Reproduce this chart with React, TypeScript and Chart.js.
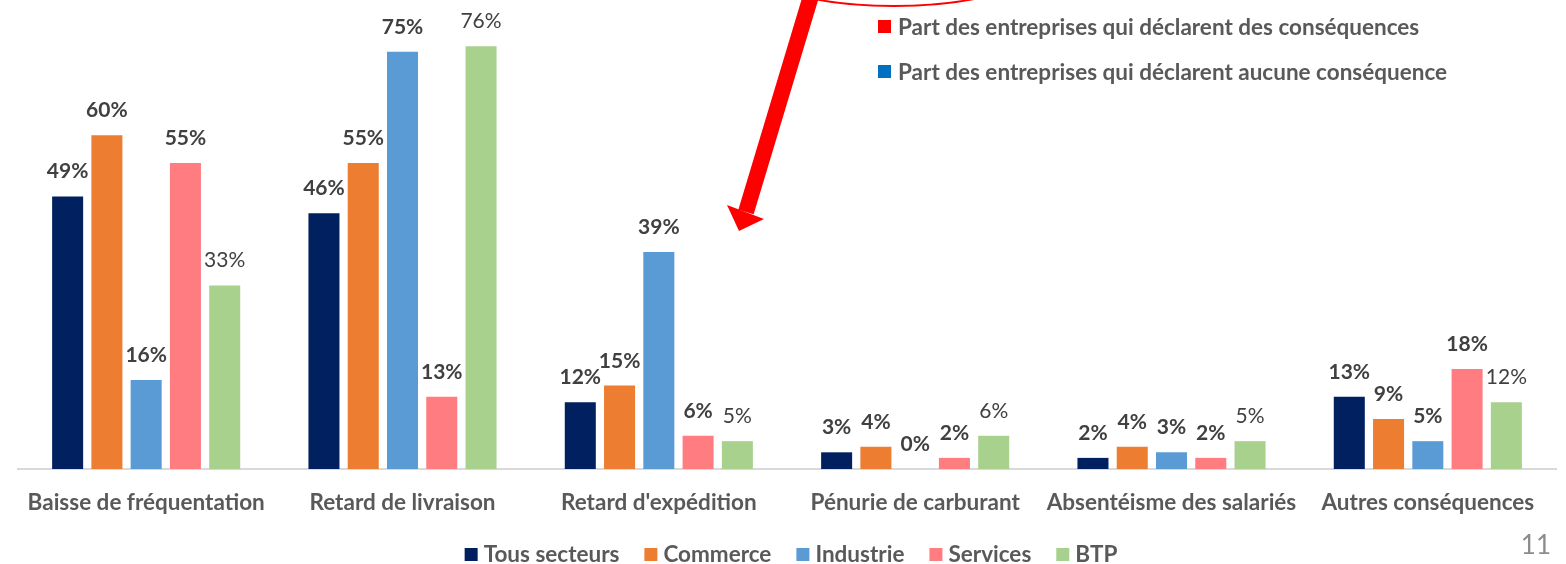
import React, { useEffect, useRef } from "react";
import { Chart, registerables } from "chart.js";

Chart.register(...registerables);

const categories = [
  "Baisse de fréquentation",
  "Retard de livraison",
  "Retard d'expédition",
  "Pénurie de carburant",
  "Absentéisme des salariés",
  "Autres conséquences",
];
const seriesNames = ["Tous secteurs", "Commerce", "Industrie", "Services", "BTP"];
const tousSecteurs = [49, 46, 12, 3, 2, 13];
const commerce = [60, 55, 15, 4, 4, 9];
const industrie = [16, 75, 39, 0, 3, 5];
const services = [55, 13, 6, 2, 2, 18];
const btp = [33, 76, 5, 6, 5, 12];
const seriesColors = ["#002060", "#ED7D31", "#5B9BD5", "#FF7C80", "#A9D18E"];
const boldLabels = [true, true, true, true, false];
const noteLabels = [
  "Part des entreprises qui déclarent des conséquences",
  "Part des entreprises qui déclarent aucune conséquence",
];
const noteColors = ["#FF0000", "#0070C0"];
const pageNumber = "11";

const FONT = "Lato, 'Open Sans', sans-serif";

const overlayPlugin = {
  id: "overlay",
  afterDatasetsDraw(chart: any) {
    const ctx = chart.ctx;
    ctx.save();
    ctx.textAlign = "center";
    ctx.textBaseline = "alphabetic";
    ctx.fillStyle = "#404040";
    chart.data.datasets.forEach((ds: any, i: number) => {
      const meta = chart.getDatasetMeta(i);
      ctx.font = `${boldLabels[i] ? "bold " : ""}21px ${FONT}`;
      meta.data.forEach((el: any, j: number) => {
        ctx.fillText(`${ds.data[j]}%`, el.x, el.y - 18);
      });
    });
    ctx.restore();
  },
  afterDraw(chart: any) {
    const ctx = chart.ctx;
    ctx.save();

    // bottom legend
    ctx.font = `bold 22.5px ${FONT}`;
    ctx.textBaseline = "middle";
    ctx.textAlign = "left";
    const box = 13;
    const gapBox = 6;
    const gapItem = 25;
    const widths = seriesNames.map((n) => ctx.measureText(n).width);
    const total =
      widths.reduce((a, w) => a + box + gapBox + w, 0) + gapItem * (seriesNames.length - 1);
    let x = 791 - total / 2;
    const ly = 554;
    seriesNames.forEach((n, i) => {
      ctx.fillStyle = seriesColors[i];
      ctx.fillRect(x, ly - 6, box, box);
      ctx.fillStyle = "#595959";
      ctx.fillText(n, x + box + gapBox, ly + 1);
      x += box + gapBox + widths[i] + gapItem;
    });

    // top-right notes
    noteLabels.forEach((t, i) => {
      const y = 27 + i * 45;
      ctx.fillStyle = noteColors[i];
      ctx.fillRect(878, y - 7, 13, 13);
      ctx.fillStyle = "#595959";
      ctx.fillText(t, 898, y + 1);
    });

    // page number
    ctx.font = `26px ${FONT}`;
    ctx.fillStyle = "#8C8C8C";
    ctx.textAlign = "right";
    ctx.fillText(pageNumber, 1551, 546);

    // red oval (partial)
    ctx.strokeStyle = "#FF0000";
    ctx.lineWidth = 2;
    ctx.beginPath();
    ctx.ellipse(894, -40, 150, 46, 0, 0, Math.PI * 2);
    ctx.stroke();

    // red arrow
    const sx = 811, sy = -4, bx = 746, by = 212;
    const dx = bx - sx, dy = by - sy;
    const len = Math.hypot(dx, dy);
    const nx = dy / len, ny = -dx / len;
    const hw = 8;
    ctx.fillStyle = "#FF0000";
    ctx.beginPath();
    ctx.moveTo(sx + nx * hw, sy + ny * hw);
    ctx.lineTo(bx + nx * hw, by + ny * hw);
    ctx.lineTo(bx - nx * hw, by - ny * hw);
    ctx.lineTo(sx - nx * hw, sy - ny * hw);
    ctx.closePath();
    ctx.fill();
    ctx.beginPath();
    ctx.moveTo(727, 205);
    ctx.lineTo(764, 219);
    ctx.lineTo(739, 231);
    ctx.closePath();
    ctx.fill();

    ctx.restore();
  },
};

export default function App() {
  const ref = useRef<HTMLCanvasElement>(null);
  useEffect(() => {
    if (!ref.current) return;
    const all = [tousSecteurs, commerce, industrie, services, btp];
    const chart = new Chart(ref.current, {
      type: "bar",
      data: {
        labels: categories,
        datasets: all.map((d, i) => ({
          label: seriesNames[i],
          data: d,
          backgroundColor: seriesColors[i],
          borderWidth: 0,
          categoryPercentage: 0.766,
          barPercentage: 0.79,
        })),
      },
      options: {
        responsive: false,
        animation: false,
        devicePixelRatio: 1,
        layout: { padding: { top: 24, left: 18, right: 10, bottom: 0 } },
        plugins: {
          legend: { display: false },
          tooltip: { enabled: false },
        },
        scales: {
          x: {
            grid: { display: false, drawTicks: false },
            border: { display: true, color: "#D9D9D9", width: 2 },
            ticks: {
              color: "#595959",
              font: { family: FONT, size: 22.5, weight: "bold" },
              padding: 20,
              maxRotation: 0,
              autoSkip: false,
            },
            afterFit: (s: any) => {
              s.height = 95;
            },
          },
          y: {
            display: false,
            min: 0,
            max: 80,
          },
        },
      },
      plugins: [overlayPlugin],
    });
    return () => chart.destroy();
  }, []);
  return (
    <div style={{ position: "fixed", left: 0, top: 0, width: 1566, height: 564, background: "#fff" }}>
      <canvas ref={ref} width={1566} height={564} />
    </div>
  );
}
